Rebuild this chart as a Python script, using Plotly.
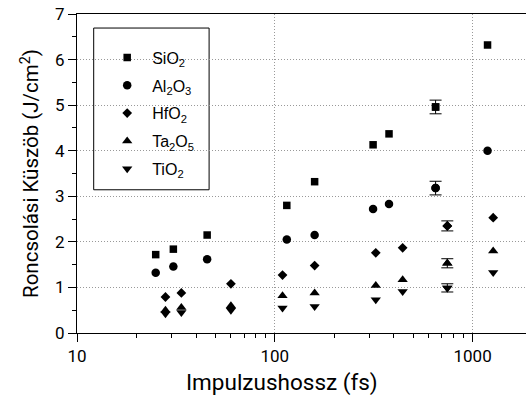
import plotly.graph_objects as go

# ---- data ----
x_si_al = [25, 30.7, 45.5, 115, 159, 314, 378, 650, 1190]
x_hf_ta_ti = [28, 33.7, 60, 109.4, 159, 324, 443, 745, 1271]

sio2 = [1.72, 1.84, 2.15, 2.80, 3.32, 4.13, 4.37, 4.96, 6.32]
sio2_err = [None, None, None, None, None, None, None, 0.15, None]
al2o3 = [1.32, 1.46, 1.62, 2.05, 2.15, 2.72, 2.83, 3.18, 4.00]
al2o3_err = [None, None, None, None, None, None, None, 0.15, None]
hfo2 = [0.79, 0.88, 1.08, 1.27, 1.48, 1.76, 1.87, 2.35, 2.53]
hfo2_err = [None, None, None, None, None, None, None, 0.11, None]
ta2o5 = [0.50, 0.56, 0.60, 0.82, 0.88, 1.04, 1.17, 1.53, 1.80]
ta2o5_err = [None, None, None, None, None, None, None, 0.10, None]
tio2 = [0.42, 0.45, 0.50, 0.55, 0.58, 0.73, 0.91, 0.99, 1.33]
tio2_err = [None, None, None, None, None, None, None, 0.09, None]

names = ["SiO<sub>2</sub>", "Al<sub>2</sub>O<sub>3</sub>", "HfO<sub>2</sub>",
         "Ta<sub>2</sub>O<sub>5</sub>", "TiO<sub>2</sub>"]

x_tick_vals = [10, 100, 1000]
x_tick_text = ["10", "100", "1000"]
x_minor_vals = [20, 30, 40, 50, 60, 70, 80, 90,
                200, 300, 400, 500, 600, 700, 800, 900]

series = [
    (names[0], x_si_al, sio2, sio2_err, "square", 7.5),
    (names[1], x_si_al, al2o3, al2o3_err, "circle", 8.5),
    (names[2], x_hf_ta_ti, hfo2, hfo2_err, "diamond", 7.5),
    (names[3], x_hf_ta_ti, ta2o5, ta2o5_err, "triangle-up", 9),
    (names[4], x_hf_ta_ti, tio2, tio2_err, "triangle-down", 9),
]

fig = go.Figure()
for i, (nm, xs, ys, es, sym, sz) in enumerate(series):
    mk = dict(symbol=sym, size=sz, color="black", line=dict(width=0))
    fig.add_trace(go.Scatter(
        x=xs, y=ys, mode="markers", name=nm, legendgroup=str(i),
        marker=mk,
    ))
    # error bars only for the points that carry an uncertainty
    ex = [x for x, e in zip(xs, es) if e is not None]
    ey = [y for y, e in zip(ys, es) if e is not None]
    ee = [e for e in es if e is not None]
    fig.add_trace(go.Scatter(
        x=ex, y=ey, mode="markers", name=nm, legendgroup=str(i),
        showlegend=False, marker=mk,
        error_y=dict(type="data", array=ee, visible=True, color="black",
                     thickness=1, width=6),
    ))

font_main = "Roboto, Arial, sans-serif"
fig.update_layout(
    width=526, height=403,
    margin=dict(l=77, r=0, t=14, b=70),
    paper_bgcolor="white", plot_bgcolor="white",
    font=dict(family=font_main, color="black", size=17),
    showlegend=True,
    legend=dict(
        x=0.0561, y=0.9166, xanchor="left", yanchor="top",
        borderwidth=0, bgcolor="rgba(0,0,0,0)",
        font=dict(family="Arial, Liberation Sans, sans-serif", size=16, color="black"),
        tracegroupgap=4, itemwidth=40,
    ),
    shapes=[dict(
        type="rect", xref="paper", yref="paper",
        x0=0.0372, x1=0.2942, y0=0.449, y1=0.956,
        line=dict(color="black", width=1), fillcolor="white", layer="between",
    )],
    annotations=[dict(
        text="Impulzushossz (fs)", xref="paper", yref="paper",
        x=0.456, y=-0.1556, xanchor="center", yanchor="middle",
        showarrow=False, font=dict(size=22.5, family=font_main, color="black"),
    )],
    xaxis=dict(
        type="log", range=[1, 3.27],
        showline=True, linecolor="black", linewidth=1, mirror=True,
        ticks="outside", ticklen=8, tickcolor="black",
        tickvals=x_tick_vals, ticktext=x_tick_text,
        showgrid=True, gridcolor="#999999", griddash="1px,2px", gridwidth=1,
        zeroline=False,
        minor=dict(ticks="outside", ticklen=4, tickcolor="black",
                   tickvals=x_minor_vals, showgrid=False),
        tickfont=dict(size=17),
    ),
    yaxis=dict(
        range=[0, 7],
        showline=True, linecolor="black", linewidth=1,
        ticks="outside", ticklen=8, tickcolor="black", dtick=1,
        showgrid=True, gridcolor="#999999", griddash="1px,2px", gridwidth=1,
        zeroline=False,
        minor=dict(ticks="outside", ticklen=4, tickcolor="black", dtick=0.5, showgrid=False),
        title=dict(text="Roncsolási Küszöb (J/cm<sup>2</sup>)", font=dict(size=20.5), standoff=10),
        tickfont=dict(size=17),
    ),
)

fig.write_html("out.html")
